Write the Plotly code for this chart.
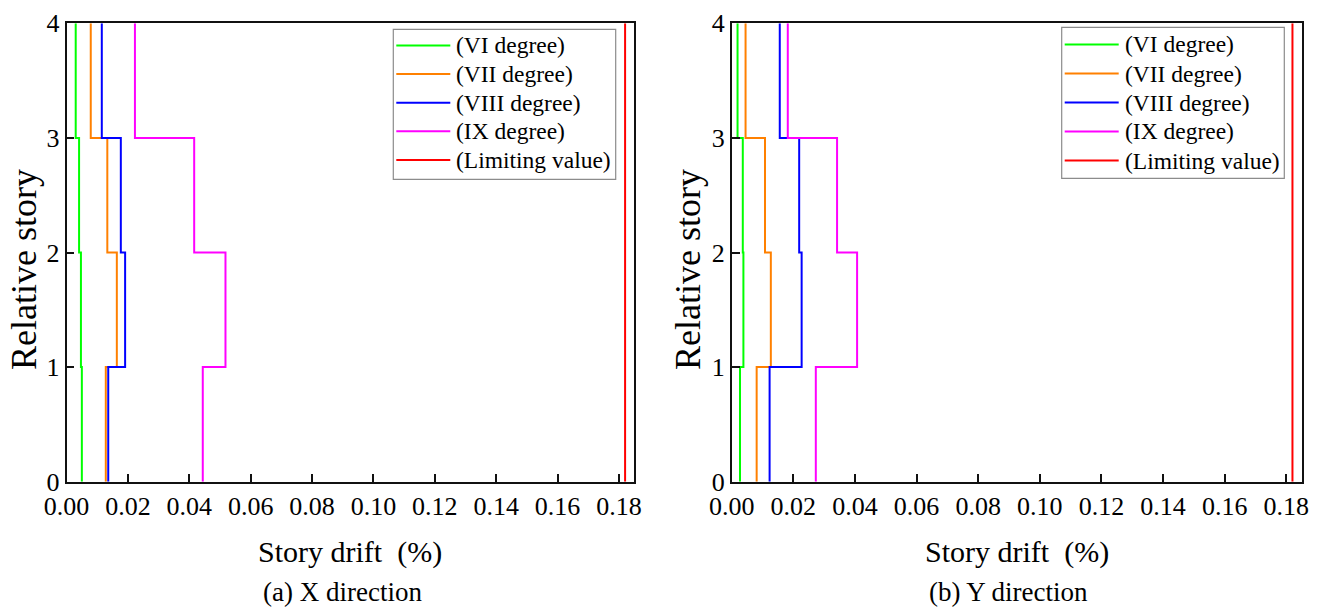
import plotly.graph_objects as go

# Story drift (%) per storey, storey 1 (0-1) to storey 4 (3-4)
storey_levels = [0, 1, 2, 3, 4]

vi_x = [0.0050, 0.0047, 0.0041, 0.0030]
vii_x = [0.0128, 0.0164, 0.0133, 0.0079]
viii_x = [0.0136, 0.0191, 0.0177, 0.0115]
ix_x = [0.0444, 0.0518, 0.0416, 0.0223]

vi_y = [0.0027, 0.0038, 0.0036, 0.0019]
vii_y = [0.0081, 0.0127, 0.0108, 0.0045]
viii_y = [0.0123, 0.0227, 0.0219, 0.0156]
ix_y = [0.0273, 0.0407, 0.0342, 0.0182]

limit_value = 0.182  # 1/550 expressed in %

series_names = ["(VI degree)", "(VII degree)", "(VIII degree)", "(IX degree)", "(Limiting value)"]
series_colors = ["#00FF00", "#FF8000", "#0000FF", "#FF00FF", "#FF0000"]

x_ticks = [0.00, 0.02, 0.04, 0.06, 0.08, 0.10, 0.12, 0.14, 0.16, 0.18]
y_ticks = [0, 1, 2, 3, 4]

FONT = "Liberation Serif, Times New Roman, serif"
W, H = 1320, 607


def px_x(p):
    return p / W


def px_y(p):
    return 1 - p / H


fig = go.Figure()


def add_panel(values_list, xa, ya):
    for name, color, vals in zip(series_names[:4], series_colors[:4], values_list):
        # stair: drift is constant over each storey height
        fig.add_trace(go.Scatter(
            x=list(vals) + [vals[-1]], y=storey_levels,
            mode="lines", line=dict(color=color, width=2, shape="vh"),
            name=name, xaxis=xa, yaxis=ya, showlegend=False,
        ))
    fig.add_trace(go.Scatter(
        x=[limit_value, limit_value], y=[storey_levels[0], storey_levels[-1]],
        mode="lines", line=dict(color=series_colors[4], width=2),
        name=series_names[4], xaxis=xa, yaxis=ya, showlegend=False,
    ))


add_panel([vi_x, vii_x, viii_x, ix_x], "x", "y")
add_panel([vi_y, vii_y, viii_y, ix_y], "x2", "y2")

y_dom = [px_y(481.7), px_y(23.3)]

xaxis_common = dict(
    range=[0, 0.185], tickvals=x_ticks, tickformat=".2f",
    ticks="inside", ticklen=8, tickwidth=1.5, tickcolor="#111",
    showline=True, linecolor="#111", linewidth=1.6, mirror=True,
    showgrid=False, zeroline=False, automargin=False,
    tickfont=dict(family=FONT, size=26, color="black"),
)
yaxis_common = dict(
    range=[0, 4], tickvals=y_ticks,
    ticks="inside", ticklen=8, tickwidth=1.5, tickcolor="#111",
    showline=True, linecolor="#111", linewidth=1.6, mirror=True,
    showgrid=False, zeroline=False, domain=y_dom, automargin=False,
    tickfont=dict(family=FONT, size=26, color="black"),
)

fig.update_layout(
    width=W, height=H,
    margin=dict(l=0, r=0, t=0, b=0, autoexpand=False),
    paper_bgcolor="white", plot_bgcolor="white",
    font=dict(family=FONT, color="black"),
    showlegend=False,
    xaxis=dict(domain=[px_x(66.5), px_x(634.3)], anchor="y", **xaxis_common),
    yaxis=dict(anchor="x", **yaxis_common),
    xaxis2=dict(domain=[px_x(731.7), px_x(1301.7)], anchor="y2", **xaxis_common),
    yaxis2=dict(anchor="x2", **yaxis_common),
)


# Legend box per panel: framed list of line samples and series names
def draw_legend(box_left, box_top, box_right, box_bottom, first_row, row_step):
    fig.add_shape(type="rect", xref="paper", yref="paper",
                  x0=px_x(box_left), x1=px_x(box_right),
                  y0=px_y(box_bottom), y1=px_y(box_top),
                  line=dict(color="#8c8c8c", width=1.2), fillcolor="white", layer="above")
    for i, (name, color) in enumerate(zip(series_names, series_colors)):
        row_y = first_row + i * row_step
        fig.add_shape(type="line", xref="paper", yref="paper",
                      x0=px_x(box_left + 3), x1=px_x(box_left + 57),
                      y0=px_y(row_y), y1=px_y(row_y),
                      line=dict(color=color, width=2), layer="above")
        fig.add_annotation(xref="paper", yref="paper", showarrow=False,
                           x=px_x(box_left + 61), y=px_y(row_y),
                           xanchor="left", yanchor="middle", text=name,
                           font=dict(family=FONT, size=23.5, color="black"))


draw_legend(393.3, 29.3, 615.7, 179.3, 45.5, 28.6)
draw_legend(1061.7, 27.3, 1284.3, 178.3, 44.5, 29.0)

annotations = [
    # y-axis titles
    dict(text="Relative story", x=px_x(24), y=px_y(270), textangle=-90, font_size=36),
    dict(text="Relative story", x=px_x(688), y=px_y(270), textangle=-90, font_size=36),
    # x-axis titles
    dict(text="Story drift  (%)", x=px_x(350.4), y=px_y(552), font_size=30),
    dict(text="Story drift  (%)", x=px_x(1016.7), y=px_y(552), font_size=30),
    # panel captions
    dict(text="(a) X direction", x=px_x(342.5), y=px_y(592), font_size=27),
    dict(text="(b) Y direction", x=px_x(1008), y=px_y(592), font_size=27),
]
for a in annotations:
    fig.add_annotation(
        xref="paper", yref="paper", showarrow=False,
        xanchor="center", yanchor="middle",
        text=a["text"], x=a["x"], y=a["y"], textangle=a.get("textangle", 0),
        font=dict(family=FONT, size=a["font_size"], color="black"),
    )

fig.write_html("out.html")
